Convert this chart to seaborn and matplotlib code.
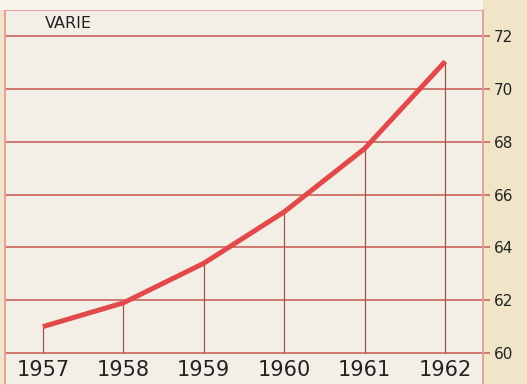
import matplotlib
matplotlib.use("Agg")
import matplotlib.pyplot as plt
import seaborn as sns
import pandas as pd
from matplotlib.patches import Rectangle

years = [1957, 1958, 1959, 1960, 1961, 1962]
values = [61.0, 61.9, 63.4, 65.35, 67.75, 71.05]
y_ticks = [60, 62, 64, 66, 68, 70, 72]
title = "VARIE"

line_red = "#E2494B"
grid_red = "#C65A52"
drop_col = "#9A5850"
frame_col = "#E79A94"
paper = "#F4EFE6"
cream = "#F1E5C9"

sns.set_theme(style="white")
plt.rcParams["font.family"] = ["DejaVu Sans"]

fig = plt.figure(figsize=(5.27, 3.84), dpi=100, facecolor=cream)
# pale strip above the chart frame
fig.patches.append(Rectangle((0, 1 - 10 / 384), 483 / 527, 10 / 384,
                             transform=fig.transFigure, facecolor="#F7F4EE",
                             edgecolor="none", zorder=0))

ax = fig.add_axes([5 / 527, (384 - 392.6) / 384, 478 / 527, 382.6 / 384])
ax.set_facecolor(paper)

df = pd.DataFrame({"year": years, "value": values})

# horizontal rules at each labelled level
for t in y_ticks:
    ax.axhline(t, color=grid_red, lw=1.1, zorder=1)

# thin drop lines from the baseline up to each yearly value
ax.vlines(df["year"], 60, df["value"], color=drop_col, lw=0.9, zorder=2)

sns.lineplot(data=df, x="year", y="value", ax=ax, color=line_red,
             lw=3.6, zorder=3, solid_capstyle="butt")

ax.set_xlim(1956.53, 1962.47)
ax.set_ylim(58.5, 73.0)
ax.set_xlabel("")
ax.set_ylabel("")
ax.set_xticks([])

ax.yaxis.tick_right()
ax.set_yticks(y_ticks)
ax.set_yticklabels([str(t) for t in y_ticks], fontsize=11, color="#222222")
ax.tick_params(axis="y", which="both", right=True, length=5, width=1.1,
               color=grid_red, pad=3)

for s in ax.spines.values():
    s.set_color(frame_col)
    s.set_linewidth(1.3)

for yr in years:
    ax.text(yr, 59.36, str(yr), ha="center", va="center", fontsize=15,
            color="#222222")

ax.text(1956.53 + 40 / 80.5, 72.5, title, ha="left", va="center",
        fontsize=11.5, color="#222222")

fig.savefig("out.png", dpi=100, facecolor=fig.get_facecolor())
